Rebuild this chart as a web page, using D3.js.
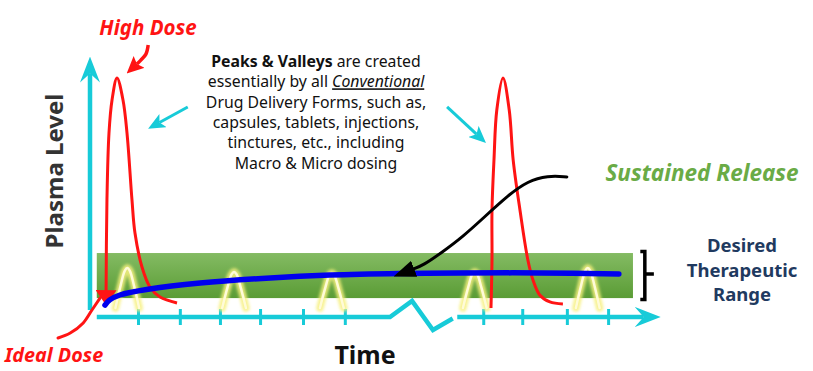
<!DOCTYPE html>
<html>
<head>
<meta charset="utf-8">
<script src="https://cdn.jsdelivr.net/npm/d3@7"></script>
<style>
  body { margin: 0; background: #fff; }
  text { font-family: "Noto Sans", "Open Sans", sans-serif; }
</style>
</head>
<body>
<div id="chart"></div>
<script>
// Everything lives in "time" (x) and "plasma level" (y) units, 0-100

// x axis
var tickTimes = [8.5, 15.9, 23.0, 30.1, 37.7, 45.1, 69.6, 76.5, 84.4, 91.7];
var axisLeftPart = [[1.2, 0], [53.1, 0], [57.0, 6.2], [60.7, -5.0], [64.2, -0.6]];
var axisRightPart = [[65.0, 0], [98.0, 0]];
var yAxisPart = [[0, 2.7], [0, 94]];

// desired therapeutic range band
var rangeLevels = [7.3, 24.7];
var rangeTimes = [1.2, 96.1];

// small peaks & valleys (conventional doses)
var peakTimes = [6.6, 25.5, 42.8, 68.1, 88.1];
var peakLevels = [18.9, 17.4, 17.0, 17.4, 18.9];
var peakBaseLevel = 3.5;
var peakShape = [[-2.1, 0], [-1.2, 0.55], [-0.45, 0.93], [0, 1], [0.45, 0.93], [1.2, 0.55], [2.1, 0]];

// sustained release curve
var sustained = [[2.65, 4.6], [3.5, 6.6], [5.3, 8.5], [10.6, 10.8], [19.5, 13.1], [31.9, 15.1],
                 [42.5, 16.2], [54.9, 16.8], [65.5, 17.0], [79.6, 17.0], [93.6, 16.6]];

// high dose spikes
var highDose1 = [[2.83, 4.6], [3.0, 45.2], [3.36, 71.0], [3.9, 83.8], [4.78, 92.3], [5.84, 83.8],
                 [6.55, 71.0], [7.43, 45.2], [7.96, 32.4], [9.2, 19.3], [10.6, 11.6], [12.4, 7.7], [15.4, 5.4]];
var highDose2 = [[70.97, 3.5], [71.15, 22.0], [71.15, 41.3], [71.5, 60.6], [72.0, 79.9], [73.1, 92.3],
                 [74.2, 79.9], [74.9, 60.6], [76.1, 41.3], [77.5, 22.0], [78.4, 14.3], [79.6, 8.5],
                 [81.4, 5.8], [83.7, 5.0]];

// annotation arrows
var sustainedArrow = [[84.4, 54.1], [81.0, 54.6], [77.5, 52.5], [74.0, 47.0], [70.0, 39.0],
                      [66.0, 31.0], [62.0, 24.5], [59.0, 20.0], [57.2, 18.5]];
var highDoseArrow = [[10.3, 105.0], [9.9, 101.5], [9.0, 99.2], [8.3, 97.7]];
var idealDoseArrow = [[-5.66, -8.1], [-3.5, -6.2], [-1.2, -2.3], [0.35, 2.7], [1.77, 7.3]];
var peaksArrowLeft = [[17.3, 81.1], [12.3, 75.1]];
var peaksArrowRight = [[63.2, 81.1], [68.4, 70.6]];

var noteLines = [
  [["Peaks & Valleys", "b"], [" are created", ""]],
  [["essentially by all ", ""], ["Conventional", "iu"]],
  [["Drug Delivery Forms, such as,", ""]],
  [["capsules, tablets, injections,", ""]],
  [["tinctures, etc., including", ""]],
  [["Macro & Micro dosing", ""]]
];
var rangeLabel = ["Desired", "Therapeutic", "Range"];

var width = 813, height = 371;
var cyan = "#17cbd8", red = "#ff1414";

var svg = d3.select("#chart").append("svg")
    .attr("width", width)
    .attr("height", height);

var x = d3.scaleLinear().domain([0, 100]).range([90, 655]);
var y = d3.scaleLinear().domain([0, 100]).range([317, 58]);

var line = d3.line().x(d => x(d[0])).y(d => y(d[1])).curve(d3.curveCatmullRom);
var smooth = d3.line().x(d => x(d[0])).y(d => y(d[1])).curve(d3.curveBasis);
var straight = d3.line().x(d => x(d[0])).y(d => y(d[1]));

var defs = svg.append("defs");

var grad = defs.append("linearGradient").attr("id", "band")
    .attr("x1", 0).attr("y1", 0).attr("x2", 0).attr("y2", 1);
grad.append("stop").attr("offset", "0%").attr("stop-color", "#84bb63");
grad.append("stop").attr("offset", "100%").attr("stop-color", "#5a9c35");

defs.append("filter").attr("id", "glow")
    .attr("x", "-50%").attr("y", "-50%").attr("width", "200%").attr("height", "200%")
  .append("feGaussianBlur").attr("stdDeviation", 1.6);

function marker(id, d, refX, w, h, color, orient) {
  defs.append("marker").attr("id", id)
      .attr("viewBox", [0, -h / 2, w, h].join(" "))
      .attr("refX", refX).attr("refY", 0)
      .attr("markerWidth", w).attr("markerHeight", h)
      .attr("markerUnits", "userSpaceOnUse")
      .attr("orient", orient || "auto")
    .append("path").attr("d", d).attr("fill", color);
}
marker("axisHead", "M0,-10L26,0L0,10L9,0Z", 9, 26, 20, cyan);
marker("cyanHead", "M0,-7.5L17,0L0,7.5L4,0Z", 4, 17, 15, cyan);
marker("redHead", "M0,-8L17,0L0,8L3,0Z", 3, 17, 16, red);
marker("redDown", "M0,-10.5L15,0L0,10.5Z", 15, 15, 21, red, "auto-start-reverse");
marker("blackHead", "M0,-8.5L22,0L0,8.5Z", 1, 22, 17, "#000");

// therapeutic band
svg.append("rect")
    .attr("x", x(rangeTimes[0]))
    .attr("y", y(rangeLevels[1]))
    .attr("width", x(rangeTimes[1]) - x(rangeTimes[0]))
    .attr("height", y(rangeLevels[0]) - y(rangeLevels[1]))
    .attr("fill", "url(#band)");

// axes
svg.append("path").attr("d", straight(yAxisPart))
    .attr("fill", "none").attr("stroke", cyan).attr("stroke-width", 4.5)
    .attr("marker-end", "url(#axisHead)");
svg.append("path").attr("d", straight(axisLeftPart))
    .attr("fill", "none").attr("stroke", cyan).attr("stroke-width", 4.5)
    .attr("stroke-linejoin", "miter");
svg.append("path").attr("d", straight(axisRightPart))
    .attr("fill", "none").attr("stroke", cyan).attr("stroke-width", 4.5)
    .attr("marker-end", "url(#axisHead)");

var xAxis = svg.append("g")
    .attr("transform", `translate(0,${y(0) - 8})`)
    .call(d3.axisBottom(x).tickValues(tickTimes).tickSize(16).tickFormat(""));
xAxis.select(".domain").remove();
xAxis.selectAll(".tick line").attr("stroke", cyan).attr("stroke-width", 3);

// peaks with a yellow glow
var peaks = svg.append("g");
peakTimes.forEach(function(t, i) {
  var pts = peakShape.map(p => [t + p[0], peakBaseLevel + p[1] * (peakLevels[i] - peakBaseLevel)]);
  peaks.append("path").attr("d", line(pts))
      .attr("fill", "none").attr("stroke", "#f6f07e").attr("stroke-width", 7.5)
      .attr("stroke-linecap", "round").attr("opacity", 0.85).attr("filter", "url(#glow)");
  peaks.append("path").attr("d", line(pts))
      .attr("fill", "none").attr("stroke", "#fffbd8").attr("stroke-width", 2.5)
      .attr("stroke-linecap", "round");
});

// high dose spikes
svg.append("path").attr("d", line(highDose1))
    .attr("fill", "none").attr("stroke", red).attr("stroke-width", 3)
    .attr("marker-start", "url(#redDown)");
svg.append("path").attr("d", line(highDose2))
    .attr("fill", "none").attr("stroke", red).attr("stroke-width", 3);

// sustained release
svg.append("path").attr("d", line(sustained))
    .attr("fill", "none").attr("stroke", "#0000ee").attr("stroke-width", 5.5)
    .attr("stroke-linecap", "round");

svg.append("path").attr("d", smooth(sustainedArrow))
    .attr("fill", "none").attr("stroke", "#000").attr("stroke-width", 3)
    .attr("stroke-linecap", "round")
    .attr("marker-end", "url(#blackHead)");

// annotation arrows
svg.append("path").attr("d", line(highDoseArrow))
    .attr("fill", "none").attr("stroke", red).attr("stroke-width", 3.5)
    .attr("marker-end", "url(#redHead)");
svg.append("path").attr("d", line(idealDoseArrow))
    .attr("fill", "none").attr("stroke", red).attr("stroke-width", 3)
    .attr("stroke-linecap", "round");
[peaksArrowLeft, peaksArrowRight].forEach(function(a) {
  svg.append("path").attr("d", straight(a))
      .attr("fill", "none").attr("stroke", cyan).attr("stroke-width", 3)
      .attr("marker-end", "url(#cyanHead)");
});

// bracket
svg.append("path")
    .attr("d", `M${x(97.4)},${y(rangeLevels[1]) - 1.5}H${x(98.2)}V${y(rangeLevels[0]) + 1.5}H${x(97.4)}` +
               `M${x(98.2)},${y(16.6)}H${x(99.8)}`)
    .attr("fill", "none").attr("stroke", "#000").attr("stroke-width", 3.5);

// texts
svg.append("text").text("High Dose")
    .attr("x", 148).attr("y", 35).attr("text-anchor", "middle")
    .attr("fill", red).attr("font-size", 20.5).attr("font-weight", "bold").attr("font-style", "italic");
svg.append("text").text("Ideal Dose")
    .attr("x", 54).attr("y", 362).attr("text-anchor", "middle")
    .attr("fill", red).attr("font-size", 19.8).attr("font-weight", "bold").attr("font-style", "italic");
svg.append("text").text("Plasma Level")
    .attr("transform", "translate(63,171) rotate(-90)").attr("text-anchor", "middle")
    .attr("fill", "#333").attr("font-size", 24).attr("font-weight", "bold");
svg.append("text").text("Time")
    .attr("x", 365).attr("y", 364).attr("text-anchor", "middle")
    .attr("fill", "#111").attr("font-size", 25).attr("font-weight", "bold");
svg.append("text").text("Sustained Release")
    .attr("x", 702).attr("y", 181).attr("text-anchor", "middle")
    .attr("fill", "#6aab46").attr("font-size", 22.5).attr("font-weight", "bold").attr("font-style", "italic");

svg.append("g").selectAll("text").data(rangeLabel).enter().append("text")
    .text(d => d)
    .attr("x", 742).attr("y", (d, i) => 252 + i * 24.5).attr("text-anchor", "middle")
    .attr("fill", "#1f3a60").attr("font-size", 18.5).attr("font-weight", "bold");

var note = svg.append("text").attr("text-anchor", "middle")
    .attr("fill", "#111").attr("font-size", 15.8);
noteLines.forEach(function(parts, i) {
  var ln = note.append("tspan").attr("x", 316).attr("y", 67 + i * 20.3);
  parts.forEach(function(p) {
    var s = ln.append("tspan").text(p[0]);
    if (p[1].indexOf("b") >= 0) s.attr("font-weight", "bold");
    if (p[1].indexOf("i") >= 0) s.attr("font-style", "italic");
    if (p[1].indexOf("u") >= 0) s.attr("text-decoration", "underline");
  });
});
</script>
</body>
</html>
